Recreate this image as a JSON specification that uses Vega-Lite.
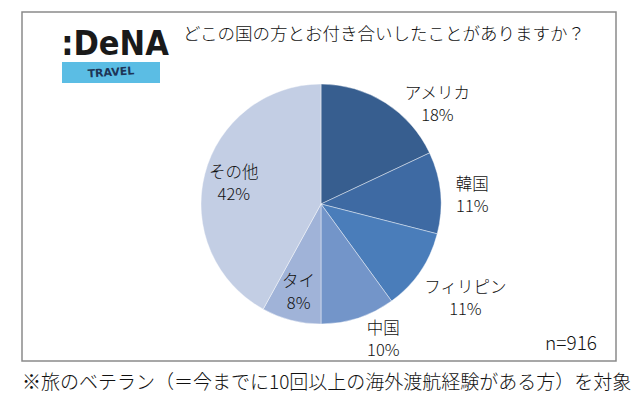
{
  "$schema": "https://vega.github.io/schema/vega-lite/v6.json",
  "autosize": "none",
  "width": 594,
  "height": 349,
  "padding": {"left": 22, "top": 12, "right": 24, "bottom": 40},
  "background": "white",
  "view": {"stroke": "#8a8a8a", "strokeWidth": 1.5},
  "config": {
    "view": {"stroke": "#8a8a8a", "strokeWidth": 1.5},
    "font": "Noto Sans CJK JP"
  },
  "title": {
    "text": "どこの国の方とお付き合いしたことがありますか？",
    "anchor": "start",
    "frame": "group",
    "dx": 161,
    "offset": -40,
    "baseline": "middle",
    "font": "Noto Sans CJK JP",
    "fontSize": 17.5,
    "fontWeight": 300,
    "color": "#111111"
  },
  "data": {
    "values": [
      {"country": "アメリカ", "share": 18, "rank": 1, "label": "アメリカ\n18%"},
      {"country": "韓国", "share": 11, "rank": 2, "label": "韓国\n11%"},
      {"country": "フィリピン", "share": 11, "rank": 3, "label": "フィリピン\n11%"},
      {"country": "中国", "share": 10, "rank": 4, "label": "中国\n10%"},
      {"country": "タイ", "share": 8, "rank": 5, "label": "タイ\n8%"},
      {"country": "その他", "share": 42, "rank": 6, "label": "その他\n42%"}
    ]
  },
  "layer": [
    {
      "mark": {"type": "arc", "radius": 120, "x": {"expr": "width/2+2"}, "y": {"expr": "height/2+17.5"}, "stroke": "#ffffff", "strokeWidth": 0.6, "strokeOpacity": 0.7},
      "encoding": {
        "theta": {"field": "share", "type": "quantitative", "stack": true},
        "order": {"field": "rank", "type": "quantitative"},
        "color": {
          "field": "country", "type": "nominal", "legend": null,
          "scale": {
            "domain": ["アメリカ", "韓国", "フィリピン", "中国", "タイ", "その他"],
            "range": ["#375e8f", "#3e6aa3", "#4a7dba", "#7395c9", "#a0b3d8", "#c3cee4"]
          }
        }
      }
    },
    {
      "mark": {"type": "text", "radius": 90, "dx": 0, "dy": -9, "x": {"expr": "width/2+2"}, "y": {"expr": "height/2+17.5"}, "lineBreak": "\n", "fontSize": 16.5, "fontWeight": 300, "lineHeight": 22, "color": "#111111"},
      "encoding": {
        "theta": {"field": "share", "type": "quantitative", "stack": true},
        "order": {"field": "rank", "type": "quantitative"},
        "text": {"condition": {"test": "datum.country === 'その他' || datum.country === 'タイ'", "field": "label"}, "value": ""}
      }
    },
    {
      "mark": {"type": "text", "radius": 152, "dy": -5, "x": {"expr": "width/2+2"}, "y": {"expr": "height/2+17.5"}, "lineBreak": "\n", "fontSize": 16.5, "fontWeight": 300, "lineHeight": 22, "color": "#111111"},
      "encoding": {
        "theta": {"field": "share", "type": "quantitative", "stack": true},
        "order": {"field": "rank", "type": "quantitative"},
        "text": {"condition": {"test": "datum.country === '韓国'", "field": "label"}, "value": ""}
      }
    },
    {
      "mark": {"type": "text", "radius": 171, "dx": 3, "dy": -12, "x": {"expr": "width/2+2"}, "y": {"expr": "height/2+17.5"}, "lineBreak": "\n", "fontSize": 16.5, "fontWeight": 300, "lineHeight": 22, "color": "#111111"},
      "encoding": {
        "theta": {"field": "share", "type": "quantitative", "stack": true},
        "order": {"field": "rank", "type": "quantitative"},
        "text": {"condition": {"test": "datum.country === 'フィリピン'", "field": "label"}, "value": ""}
      }
    },
    {
      "mark": {"type": "text", "radius": 150, "dx": 16, "dy": -18, "x": {"expr": "width/2+2"}, "y": {"expr": "height/2+17.5"}, "lineBreak": "\n", "fontSize": 16.5, "fontWeight": 300, "lineHeight": 22, "color": "#111111"},
      "encoding": {
        "theta": {"field": "share", "type": "quantitative", "stack": true},
        "order": {"field": "rank", "type": "quantitative"},
        "text": {"condition": {"test": "datum.country === '中国'", "field": "label"}, "value": ""}
      }
    },
    {
      "mark": {"type": "text", "radius": 152, "dx": 35, "dy": 18, "x": {"expr": "width/2+2"}, "y": {"expr": "height/2+17.5"}, "lineBreak": "\n", "fontSize": 16.5, "fontWeight": 300, "lineHeight": 22, "color": "#111111"},
      "encoding": {
        "theta": {"field": "share", "type": "quantitative", "stack": true},
        "order": {"field": "rank", "type": "quantitative"},
        "text": {"condition": {"test": "datum.country === 'アメリカ'", "field": "label"}, "value": ""}
      }
    },
    {
      "data": {"values": [{}]},
      "mark": {"type": "rect", "x": 40, "x2": 138, "y": 50, "y2": 71, "color": "#5bbde4"},
      "encoding": {}
    },
    {
      "data": {"values": [{}]},
      "mark": {"type": "text", "x": 93, "y": 33, "text": ":DeNA", "font": "DejaVu Sans Condensed, Roboto Condensed, Liberation Sans, sans-serif", "fontSize": 34, "fontWeight": "bold", "align": "center", "baseline": "middle", "color": "#1a1a1a"},
      "encoding": {}
    },
    {
      "data": {"values": [{}]},
      "mark": {"type": "text", "x": 89, "y": 61, "text": "TRAVEL", "font": "DejaVu Sans", "fontSize": 11, "fontWeight": "bold", "angle": -4, "align": "center", "baseline": "middle", "color": "#1d3557"},
      "encoding": {}
    },
    {
      "data": {"values": [{}]},
      "mark": {"type": "text", "x": 575, "y": 332, "text": "n=916", "font": "Noto Sans CJK JP", "fontSize": 19, "fontWeight": 300, "align": "right", "baseline": "middle", "color": "#111111"},
      "encoding": {}
    },
    {
      "data": {"values": [{}]},
      "mark": {"type": "text", "x": 0, "y": 371, "text": "※旅のベテラン（＝今までに10回以上の海外渡航経験がある方）を対象", "font": "Noto Sans CJK JP", "fontSize": 19, "fontWeight": 300, "align": "left", "baseline": "middle", "color": "#111111"},
      "encoding": {}
    }
  ]
}
